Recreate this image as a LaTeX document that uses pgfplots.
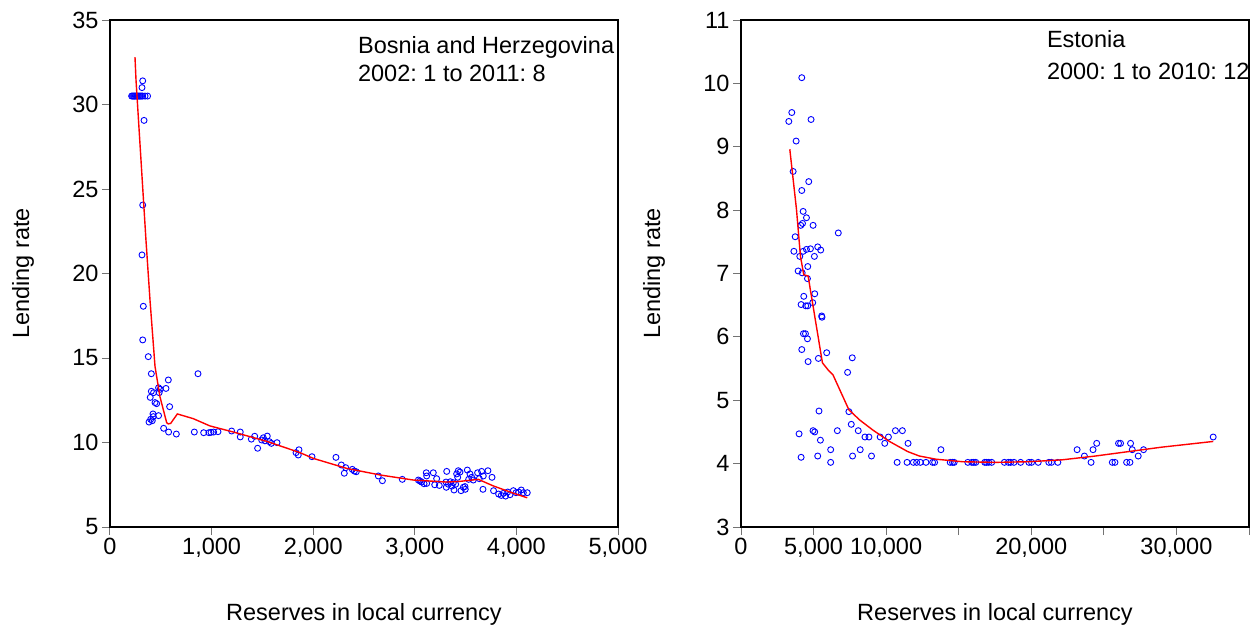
\documentclass[border=0pt]{standalone}
\usepackage{pgfplots}
\pgfplotsset{compat=1.18}
\usepackage{fontspec}
\setmainfont{Liberation Sans}
\frenchspacing
\pgfplotsset{
  myax/.style={
    scale only axis, width=508pt, height=507pt, anchor=south west,
    axis line style={line width=1.6pt},
    tick align=outside, xtick pos=bottom, ytick pos=left,
    major tick length=8pt,
    major tick style={line width=1pt, color=black!55},
    /pgf/number format/assume math mode=true,
    scaled ticks=false, clip mode=individual,
    every axis y label/.style={at={(axis description cs:-0.1713,0.5)}, rotate=90, anchor=center},
    every axis x label/.style={at={(axis description cs:0.5,-0.1854)}, anchor=base},
    ylabel={Lending rate}, xlabel={Reserves in local currency},
  },
  pts/.style={only marks, mark=o, mark size=3pt, color=blue, mark options={line width=0.9pt}},
  fit/.style={no marks, color=red, line width=1.4pt},
}
\begin{document}
\begin{tikzpicture}[font=\fontsize{23.5pt}{28pt}\selectfont]
\useasboundingbox (0,-631pt) rectangle (1259pt,0);
\begin{axis}[myax, at={(110pt,-527pt)},
  xmin=0, xmax=5000, ymin=5, ymax=35,
  xtick={0,1000,2000,3000,4000,5000},
  xticklabels={0,{1,000},{2,000},{3,000},{4,000},{5,000}},
  ytick={5,10,15,20,25,30,35}]
\addplot[pts] coordinates {
(213,30.5)(222,30.5)(232,30.5)(241,30.5)(250,30.5)(260,30.5)(270,30.5)(280,30.5)(290,30.5)(300,30.5)(311,30.5)(321,30.5)(345,30.5)(370,30.5)
(322,31.4)(315,31.0)(335,29.06)(322,24.05)(315,21.1)(328,18.06)(322,16.07)(377,15.08)(407,14.07)(866,14.07)(574,13.7)
(407,13.03)(429,12.95)(478,13.24)(494,13.15)(551,13.2)(484,12.95)(396,12.67)(443,12.36)(459,12.3)(587,12.12)
(423,11.69)(478,11.59)(426,11.53)(400,11.37)(384,11.21)(416,11.29)(528,10.84)(577,10.62)(653,10.5)(830,10.62)
(922,10.58)(974,10.58)(994,10.6)(1020,10.62)(1063,10.64)(1197,10.68)(1282,10.62)(1282,10.33)(1391,10.2)(1424,10.37)
(1453,9.66)(1493,10.15)(1509,10.28)(1525,10.1)(1548,10.38)(1568,10.05)(1588,9.95)(1644,9.99)(1831,9.4)(1860,9.57)
(1853,9.26)(1988,9.16)(2224,9.12)(2277,8.67)(2320,8.51)(2306,8.18)(2385,8.41)(2405,8.31)(2424,8.27)(2641,8.02)
(2681,7.74)(2877,7.82)(3035,7.78)(3051,7.72)(3067,7.66)(3091,7.56)(3113,8.21)(3117,8.02)(3117,7.58)(3182,8.21)
(3196,7.5)(3215,7.86)(3241,7.46)(3307,7.66)(3314,8.29)(3310,7.35)(3330,7.53)(3350,7.68)(3366,7.42)(3379,7.62)
(3386,7.19)(3402,7.53)(3412,8.14)(3422,7.94)(3428,8.33)(3445,8.25)(3455,7.15)(3478,7.35)(3497,7.23)(3494,7.39)
(3517,8.37)(3530,7.82)(3543,8.14)(3560,7.94)(3576,7.78)(3618,8.21)(3635,7.86)(3658,8.29)(3674,8.02)(3671,7.23)
(3720,8.33)(3760,7.94)(3775,7.15)(3825,6.95)(3851,6.87)(3871,6.99)(3894,6.83)(3914,7.07)(3937,6.91)(3970,7.15)
(3996,7.03)(4022,7.07)(4048,7.19)(4068,7.03)(4107,7.03)
};
\addplot[fit] coordinates {
(246,32.8)(256,31.45)(354,21.98)(394,18.4)(443,14.5)(492,12.7)(558,11.17)(574,11.1)(597,11.13)(663,11.69)
(820,11.41)(984,10.98)(1214,10.62)(1542,10.07)(1870,9.4)(2001,9.06)(2329,8.47)(2657,8.08)(2985,7.78)
(3314,7.66)(3445,7.7)(3625,7.82)(3773,7.43)(3970,7.0)(4107,6.73)
};
\node[anchor=base west, inner sep=0] at (rel axis cs:0.488,0.933) {Bosnia and Herzegovina};
\node[anchor=base west, inner sep=0] at (rel axis cs:0.488,0.878) {2002: 1 to 2011: 8};
\end{axis}
\begin{axis}[myax, at={(741pt,-527pt)},
  xmin=0, xmax=35000, ymin=3, ymax=11,
  xtick={0,5000,10000,15000,20000,25000,30000,35000},
  xticklabels={0,{5,000},{10,000},{},{20,000},{},{30,000},{}},
  ytick={3,4,5,6,7,8,9,10,11}]
\addplot[pts] coordinates {
(4187,10.09)(3500,9.54)(3294,9.40)(4826,9.43)(3798,9.09)(3592,8.61)(4667,8.45)(4187,8.31)(4282,7.98)(4510,7.88)
(4238,7.79)(4118,7.76)(4966,7.76)(6703,7.64)(3734,7.58)(3644,7.35)(4282,7.35)(4510,7.38)(4784,7.39)(5285,7.42)
(5491,7.37)(5056,7.27)(4050,7.27)(4599,7.11)(3937,7.04)(4214,7.01)(4578,6.92)(5079,6.68)(4324,6.64)(4942,6.54)
(4141,6.51)(4461,6.49)(4599,6.49)(5559,6.33)(5580,6.31)(4303,6.05)(4440,6.05)(4578,5.97)(4187,5.80)(5903,5.75)
(7666,5.67)(5333,5.66)(4623,5.61)(7344,5.44)(7433,4.82)(5374,4.83)(4001,4.47)(4963,4.52)(5079,4.50)(5470,4.37)
(4141,4.10)(5285,4.12)(6177,4.22)(6177,4.02)(6637,4.52)(7598,4.62)(7687,4.12)(8078,4.52)(8215,4.22)(8540,4.42)
(8815,4.42)(8991,4.12)(9588,4.42)(9904,4.32)(10158,4.42)(10638,4.52)(11119,4.52)(10758,4.02)(11510,4.32)(11442,4.02)
(11874,4.02)(12103,4.02)(12355,4.02)(12744,4.02)(13201,4.02)(13339,4.02)(13774,4.22)(14414,4.02)(14574,4.02)(14689,4.02)
(15627,4.02)(15902,4.02)(16039,4.02)(16176,4.02)(16794,4.02)(16908,4.02)(17069,4.02)(17274,4.02)(18144,4.02)(18419,4.02)
(18579,4.02)(18808,4.02)(19265,4.02)(19837,4.02)(20020,4.02)(20478,4.02)(21210,4.02)(21393,4.02)(21828,4.02)
(23157,4.22)(23660,4.12)(24118,4.02)(24254,4.22)(24507,4.32)(25583,4.02)(25766,4.02)(26012,4.32)(26150,4.32)
(26567,4.02)(26796,4.02)(26840,4.32)(26955,4.22)(27368,4.12)(27734,4.22)(32532,4.42)
};
\addplot[fit] coordinates {
(3363,8.96)(3823,8.01)(4097,7.27)(4324,6.98)(4623,6.96)(5611,5.59)(5998,5.48)(6339,5.40)(6795,5.17)(7433,4.85)
(8169,4.69)(9084,4.53)(10227,4.35)(11487,4.19)(12286,4.12)(13430,4.07)(15261,4.03)(17549,4.02)(19837,4.03)
(22125,4.06)(24413,4.12)(26701,4.19)(28989,4.26)(32535,4.35)
};
\node[anchor=base west, inner sep=0] at (rel axis cs:0.602,0.945) {Estonia};
\node[anchor=base west, inner sep=0] at (rel axis cs:0.602,0.882) {2000: 1 to 2010: 12};
\end{axis}
\end{tikzpicture}
\end{document}
